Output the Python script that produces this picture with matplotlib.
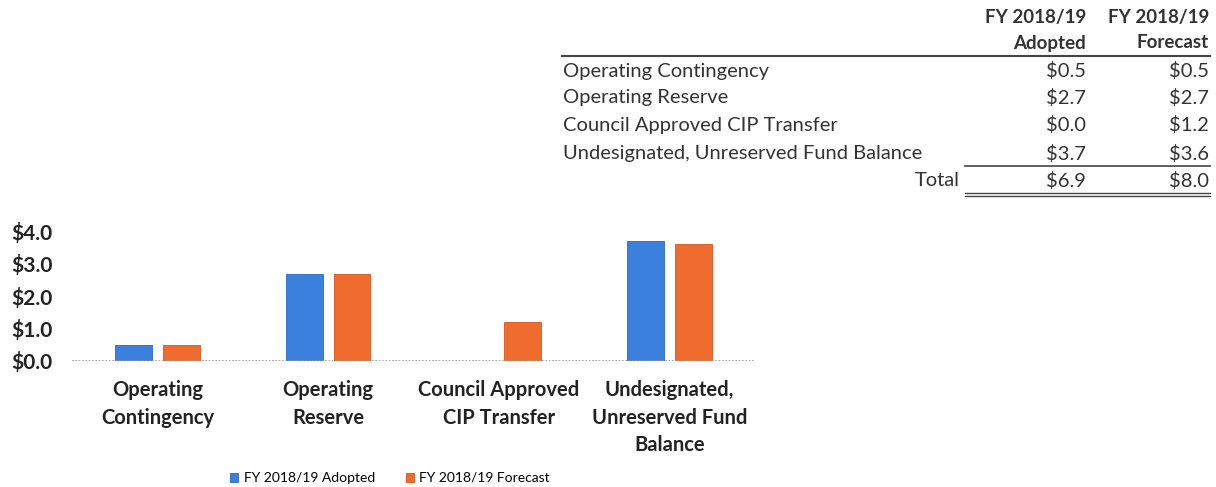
import numpy as np
import matplotlib
matplotlib.use('Agg')
import matplotlib.pyplot as plt

categories = ['Operating\nContingency', 'Operating\nReserve',
              'Council Approved\nCIP Transfer', 'Undesignated,\nUnreserved Fund\nBalance']
table_rows = ['Operating Contingency', 'Operating Reserve',
              'Council Approved CIP Transfer', 'Undesignated, Unreserved Fund Balance']
adopted = [0.5, 2.7, 0.0, 3.7]
forecast = [0.5, 2.7, 1.2, 3.6]
series_names = ['FY 2018/19 Adopted', 'FY 2018/19 Forecast']
yticks = [0.0, 1.0, 2.0, 3.0, 4.0]

blue = '#3a80dc'
orange = '#ef6b2e'
font = 'Lato'

plt.rcParams['font.family'] = [font, 'DejaVu Sans']

W, H = 1216, 487
fig = plt.figure(figsize=(W / 100, H / 100), dpi=100)

# chart area
ax = fig.add_axes([72 / W, (H - 361) / H, (755 - 72) / W, (361 - 231.4) / H])
x = np.arange(len(categories))
bw = 0.216
ax.bar(x - 0.14, adopted, bw, color=blue, edgecolor='#2a6ac4', linewidth=0.6, label=series_names[0])
ax.bar(x + 0.14, forecast, bw, color=orange, edgecolor='#d9541e', linewidth=0.6, label=series_names[1])
ax.set_xlim(-0.5, 3.5)
ax.set_ylim(0, 4.0)
ax.axhline(0, color='#999999', linewidth=1.2, linestyle=(0, (1, 1)))
for s in ax.spines.values():
    s.set_visible(False)
ax.set_yticks(yticks)
ax.set_yticklabels(['${:.1f}'.format(v) for v in yticks], fontsize=15, fontweight='bold', color='#222222')
ax.tick_params(axis='y', length=0, pad=14)
ax.set_xticks(x)
ax.set_xticklabels(categories, fontsize=14.5, fontweight='bold', color='#222222', linespacing=1.45)
ax.tick_params(axis='x', length=0, pad=14)

leg = fig.legend(loc='center', bbox_to_anchor=(390 / W, 1 - 478 / H), ncol=2, frameon=False,
                 fontsize=10, handlelength=0.6, handleheight=0.6, handletextpad=0.4, columnspacing=2.2)

# summary table
col_a = 1086 / W
col_f = 1209 / W
lab_x = 563 / W

def fy(py):
    return 1 - py / H

tc = '#333333'
for cx in (col_a, col_f):
    fig.text(cx, fy(17), 'FY 2018/19', ha='right', va='center', fontsize=13.5, fontweight='bold', color=tc)
fig.text(col_a, fy(43), 'Adopted', ha='right', va='center', fontsize=13.5, fontweight='bold', color=tc)
fig.text(col_f, fy(43), 'Forecast', ha='right', va='center', fontsize=13.5, fontweight='bold', color=tc)
fig.add_artist(plt.Line2D([562 / W, 1210 / W], [fy(56), fy(56)], color='#444444', linewidth=1.5))

row_y = [71, 98, 125, 154]
for name, a, f, py in zip(table_rows, adopted, forecast, row_y):
    fig.text(lab_x, fy(py), name, ha='left', va='center', fontsize=14.5, color=tc)
    fig.text(col_a, fy(py), '${:.1f}'.format(a), ha='right', va='center', fontsize=14.5, color=tc)
    fig.text(col_f, fy(py), '${:.1f}'.format(f), ha='right', va='center', fontsize=14.5, color=tc)

fig.add_artist(plt.Line2D([965 / W, 1210 / W], [fy(166), fy(166)], color='#444444', linewidth=1.2))
fig.text(960 / W, fy(181), 'Total', ha='right', va='center', fontsize=14.5, color=tc)
fig.text(col_a, fy(181), '${:.1f}'.format(sum(adopted)), ha='right', va='center', fontsize=14.5, color=tc)
fig.text(col_f, fy(181), '${:.1f}'.format(sum(forecast)), ha='right', va='center', fontsize=14.5, color=tc)
fig.add_artist(plt.Line2D([965 / W, 1210 / W], [fy(193), fy(193)], color='#444444', linewidth=1.0))
fig.add_artist(plt.Line2D([965 / W, 1210 / W], [fy(196), fy(196)], color='#444444', linewidth=1.0))

fig.savefig('out.png', dpi=100, facecolor='white')
